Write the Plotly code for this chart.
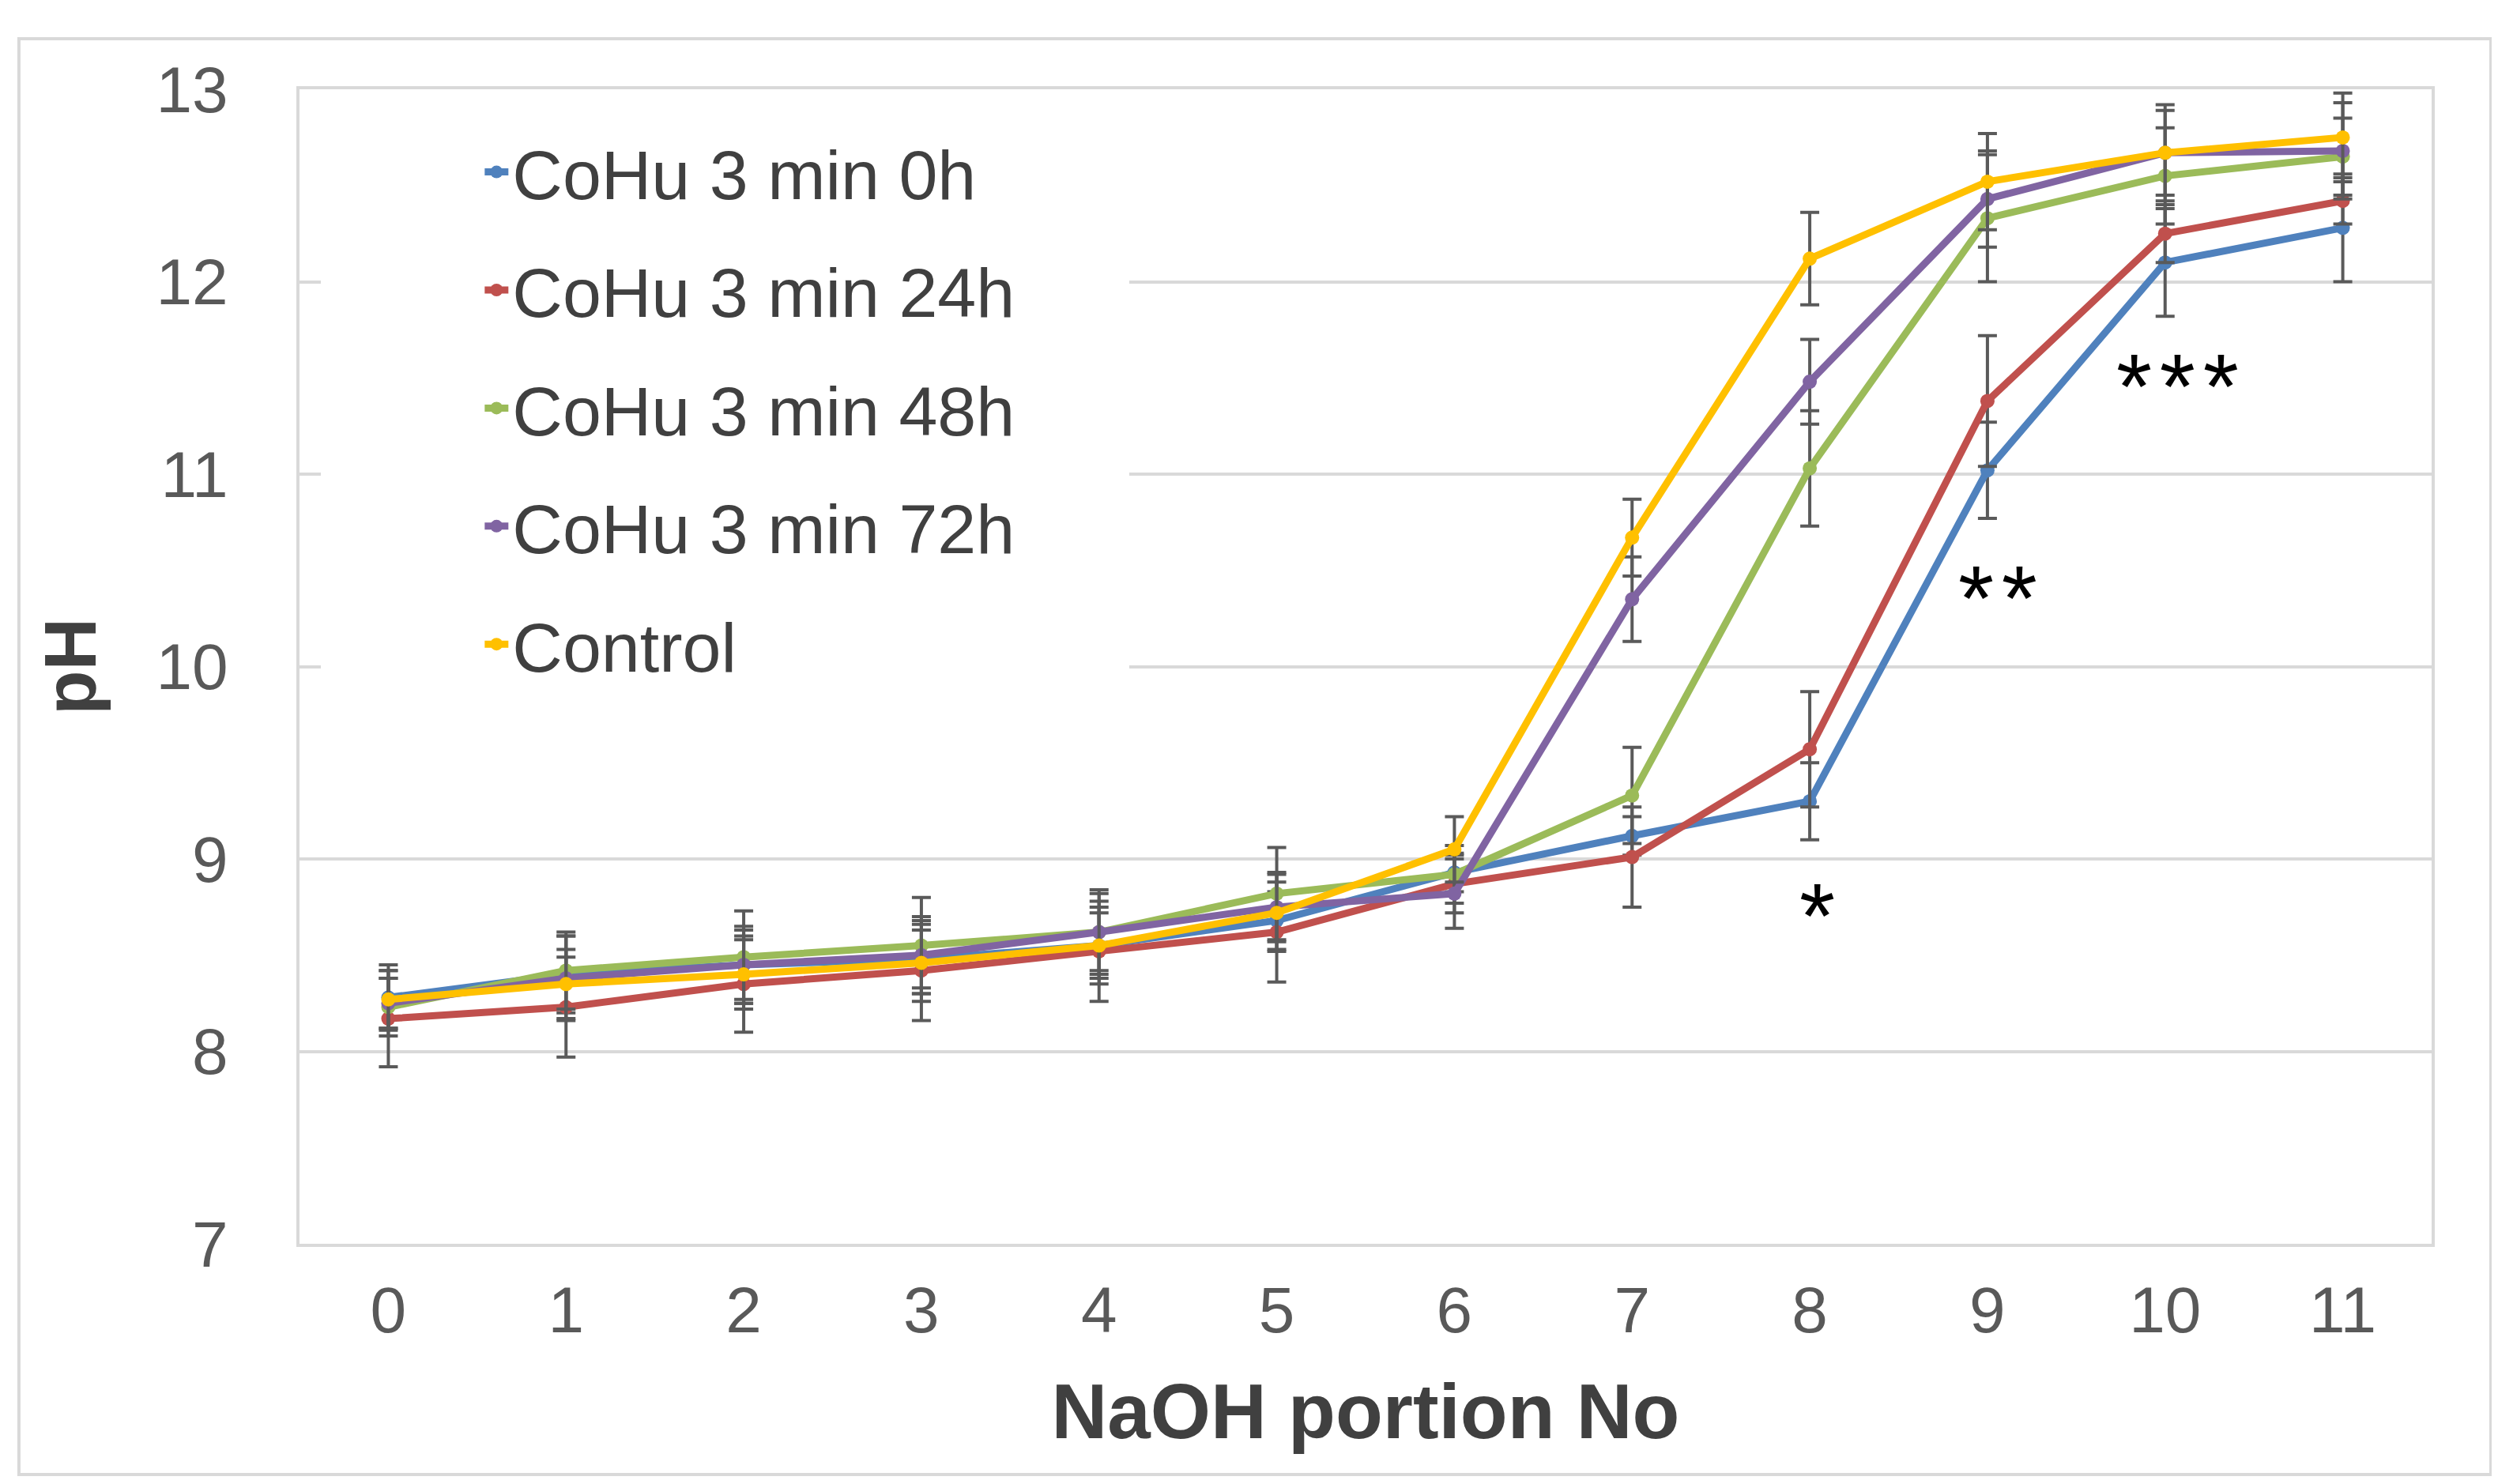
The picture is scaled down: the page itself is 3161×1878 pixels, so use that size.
import plotly.graph_objects as go

x_portions = [0, 1, 2, 3, 4, 5, 6, 7, 8, 9, 10, 11]

series_names = ["CoHu 3 min 0h", "CoHu 3 min 24h", "CoHu 3 min 48h", "CoHu 3 min 72h", "Control"]
series_colors = ["#4F81BD", "#C0504D", "#9BBB59", "#8064A2", "#FFC000"]

ph_0h = [8.28, 8.40, 8.45, 8.48, 8.55, 8.68, 8.93, 9.12, 9.30, 11.02, 12.10, 12.28]
ph_24h = [8.17, 8.23, 8.35, 8.42, 8.52, 8.62, 8.87, 9.01, 9.57, 11.38, 12.25, 12.42]
ph_48h = [8.23, 8.42, 8.49, 8.55, 8.62, 8.82, 8.92, 9.33, 11.03, 12.33, 12.55, 12.65]
ph_72h = [8.25, 8.38, 8.45, 8.50, 8.62, 8.75, 8.82, 10.35, 11.48, 12.43, 12.67, 12.68]
ph_ctrl = [8.27, 8.35, 8.40, 8.46, 8.55, 8.72, 9.05, 10.67, 12.12, 12.52, 12.67, 12.75]

err_0h = [0.17, 0.20, 0.18, 0.15, 0.17, 0.15, 0.10, 0.10, 0.20, 0.25, 0.28, 0.28]
err_24h = [0.25, 0.26, 0.25, 0.26, 0.26, 0.26, 0.15, 0.26, 0.30, 0.34, 0.15, 0.12]
err_48h = [0.15, 0.20, 0.24, 0.25, 0.22, 0.24, 0.15, 0.25, 0.30, 0.33, 0.25, 0.20]
err_72h = [0.13, 0.22, 0.20, 0.20, 0.20, 0.18, 0.18, 0.22, 0.22, 0.25, 0.22, 0.25]
err_ctrl = [0.15, 0.18, 0.18, 0.20, 0.20, 0.20, 0.17, 0.20, 0.24, 0.25, 0.25, 0.23]

series_values = [ph_0h, ph_24h, ph_48h, ph_72h, ph_ctrl]
series_errors = [err_0h, err_24h, err_48h, err_72h, err_ctrl]

sig_labels = ["*", "*\u200a*", "*\u200a*\u200a*"]
sig_x = [8.04, 9.06, 10.07]
sig_y = [8.70, 10.35, 11.45]

y_ticks = [7, 8, 9, 10, 11, 12, 13]

fig = go.Figure()
for name, color, vals, errs in zip(series_names, series_colors, series_values, series_errors):
    fig.add_trace(go.Scatter(
        x=x_portions, y=vals, name=name, legendgroup=name,
        mode="lines+markers",
        line=dict(color=color, width=9),
        marker=dict(color=color, size=18, symbol="circle"),
        error_y=dict(type="data", array=errs, visible=True,
                     color="#5a5a5a", thickness=4, width=12),
    ))

for t, xx, yy in zip(sig_labels, sig_x, sig_y):
    fig.add_annotation(x=xx, y=yy, text=t, showarrow=False,
                       font=dict(family="Liberation Sans", size=116, color="#000000"),
                       xanchor="center", yanchor="middle")

# outer border of the figure
fig.add_shape(type="rect", xref="paper", yref="paper",
              x0=-0.1316, x1=1.0278, y0=-0.1999, y1=1.0438,
              line=dict(color="#d9d9d9", width=4), fillcolor="rgba(0,0,0,0)", layer="below")
# white legend backdrop hiding gridlines (as in the original chart)
fig.add_shape(type="rect", xref="x", yref="y",
              x0=-0.38, x1=4.17, y0=9.8, y1=12.85,
              line=dict(width=0), fillcolor="white", layer="between")

fig.update_layout(
    width=3161, height=1878,
    paper_bgcolor="white", plot_bgcolor="white",
    margin=dict(l=371, r=92, t=105, b=312, autoexpand=False),
    font=dict(family="Liberation Sans", color="#404040"),
    showlegend=True,
    legend=dict(
        x=0.085, y=0.972, xanchor="left", yanchor="top",
        bgcolor="white", borderwidth=0,
        font=dict(family="Liberation Sans", size=88, color="#404040"),
        tracegroupgap=32, traceorder="grouped",
    ),
    xaxis=dict(
        range=[-0.5, 11.5], tickmode="array", tickvals=x_portions,
        ticktext=[str(v) for v in x_portions],
        showgrid=False, zeroline=False,
        showline=True, linecolor="#d9d9d9", linewidth=4, mirror=True,
        ticks="", ticklabelstandoff=10,
        tickfont=dict(family="Liberation Sans", size=82, color="#595959"),
        title=dict(text="<b>NaOH portion No</b>", standoff=50,
                   font=dict(family="Liberation Sans", size=98, color="#404040")),
    ),
    yaxis=dict(
        range=[7, 13], tickmode="array", tickvals=y_ticks,
        showgrid=True, gridcolor="#d9d9d9", gridwidth=4, zeroline=False,
        showline=True, linecolor="#d9d9d9", linewidth=4, mirror=True,
        ticks="", ticklabelstandoff=70,
        tickfont=dict(family="Liberation Sans", size=82, color="#595959"),
        title=dict(text="<b>pH</b>", standoff=46,
                   font=dict(family="Liberation Sans", size=92, color="#404040")),
    ),
)

fig.write_html("out.html")
